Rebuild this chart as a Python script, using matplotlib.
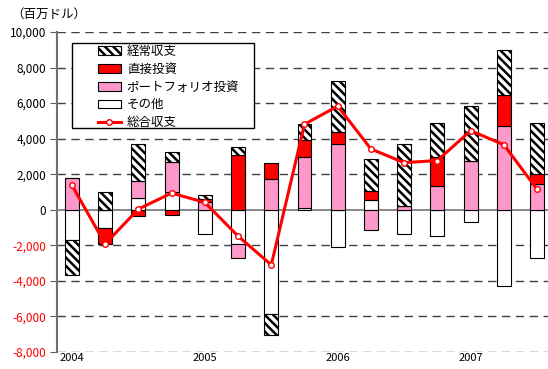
import numpy as np
import matplotlib.pyplot as plt
from matplotlib.patches import Rectangle

plt.rcParams['font.family'] = ['Noto Sans CJK JP', 'DejaVu Sans']
plt.rcParams['hatch.linewidth'] = 1.8

# 四半期データ（百万ドル）2004Q1 - 2007Q3
years = ['2004', '2005', '2006', '2007']
current = [-2000, 990, 2070, 560, 220, 470, -1180, 880, 2840, 1800, 3450, 1910, 3100, 2510, 2900]
direct = [0, -890, -340, -280, 150, 3080, 880, 940, 700, 520, 0, 1640, 0, 1720, 560]
portfolio = [1760, 0, 980, 1700, 450, -760, 1740, 2910, 3700, -1120, 230, 1310, 2750, 4730, 1440]
other = [-1680, -1030, 650, 990, -1350, -1930, -5890, 80, -2110, 560, -1360, -1500, -670, -4300, -2710]
total = [1380, -1920, 40, 940, 410, -1480, -3100, 4810, 5830, 3420, 2650, 2770, 4450, 3660, 1160]

x = np.arange(len(total))

fig, ax = plt.subplots(figsize=(5.48, 3.69), dpi=100)
fig.subplots_adjust(left=57/548, right=1.0, top=1-32/369, bottom=1-352/369)

# 積み上げ（正と負は別々に積む）
pos = np.zeros(len(x))
neg = np.zeros(len(x))
bars = {}
series = [
    ('その他', other, dict(facecolor='white')),
    ('ポートフォリオ投資', portfolio, dict(facecolor='#ff99cc')),
    ('直接投資', direct, dict(facecolor='#ff0000')),
    ('経常収支', current, dict(facecolor='white', hatch='\\\\\\\\')),
]
for name, vals, style in series:
    v = np.array(vals, dtype=float)
    bottom = np.where(v >= 0, pos, neg)
    bars[name] = ax.bar(x, v, 0.42, bottom=bottom, edgecolor='black',
                        linewidth=0.8, zorder=3, **style)
    pos += np.clip(v, 0, None)
    neg += np.clip(v, None, 0)

line, = ax.plot(x, total, color='red', lw=2.2, marker='o', ms=4,
                mfc='white', mec='red', mew=1, zorder=5)

# グリッド
for y in range(-8000, 10001, 2000):
    if y == 0:
        ax.axhline(0, color='#808080', lw=1.3, zorder=2)
    else:
        ax.axhline(y, color='#404040', lw=1.0, ls=(0, (6, 4)), zorder=1)

ax.set_ylim(-8000, 10000)
ax.set_xlim(-0.45, 14.33)
ax.set_yticks(range(-8000, 10001, 2000))
ax.set_yticklabels([f'{v:,}' for v in range(-8000, 10001, 2000)], fontsize=8.5)
for lab, v in zip(ax.get_yticklabels(), range(-8000, 10001, 2000)):
    if v < 0:
        lab.set_color('red')
ax.tick_params(axis='y', length=5, color='#606060', pad=3)
ax.set_xticks([0, 4, 8, 12])
ax.set_xticklabels(years, fontsize=8)
ax.tick_params(axis='x', length=0, pad=1)

for s in ['top', 'right', 'bottom']:
    ax.spines[s].set_visible(False)
ax.spines['left'].set_color('#707070')
ax.spines['left'].set_linewidth(1.5)

fig.text(0.02, 0.96, '（百万ドル）', fontsize=9, va='center')

# 凡例の枠
ax.add_patch(Rectangle((15/491, 224/320), 182/491, 85/320, transform=ax.transAxes,
                       facecolor='white', edgecolor='black', lw=1.0, zorder=8))
leg = ax.legend([bars['経常収支'], bars['直接投資'], bars['ポートフォリオ投資'], bars['その他'], line],
                ['経常収支', '直接投資', 'ポートフォリオ投資', 'その他', '総合収支'],
                loc='upper left', bbox_to_anchor=(98/548, 1-45/369),
                bbox_transform=fig.transFigure, borderaxespad=0, borderpad=0,
                fontsize=9, frameon=False, handlelength=1.8, handleheight=0.7,
                labelspacing=0.38, handletextpad=0.5)
leg.set_zorder(10)

fig.savefig('out.png', dpi=100)
